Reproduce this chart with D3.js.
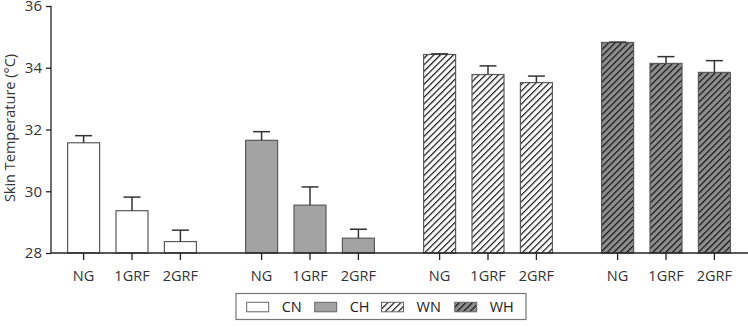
<!DOCTYPE html>
<html><head><meta charset="utf-8">
<script src="https://cdn.jsdelivr.net/npm/d3@7"></script>
<style>body{margin:0;background:#fff}svg{display:block;font-family:"Open Sans",sans-serif}</style>
</head><body><svg id="c" width="748" height="327"></svg>
<script>
const groups = ["CN","CH","WN","WH"];
const categories = ["NG","1GRF","2GRF"];
const means = {
  CN:[31.57,29.37,28.37],
  CH:[31.65,29.55,28.48],
  WN:[34.43,33.78,33.52],
  WH:[34.82,34.14,33.85]
};
const errors = {
  CN:[0.23,0.44,0.37],
  CH:[0.28,0.59,0.29],
  WN:[0.02,0.28,0.21],
  WH:[0.01,0.22,0.38]
};
const yTicks = [28,30,32,34,36];

const svg = d3.select("#c");
const defs = svg.append("defs");
function hatch(id, bg){
  const p = defs.append("pattern").attr("id",id).attr("patternUnits","userSpaceOnUse")
    .attr("width",4.6).attr("height",4.6).attr("patternTransform","rotate(45)");
  p.append("rect").attr("width",4.6).attr("height",4.6).attr("fill",bg);
  p.append("line").attr("x1",0).attr("y1",0).attr("x2",0).attr("y2",4.6).attr("stroke","#111").attr("stroke-width",2.4);
}
hatch("hWN","#ffffff");
hatch("hWH","#8e8e8e");
const fills = {CN:"#ffffff", CH:"#a3a3a3", WN:"url(#hWN)", WH:"url(#hWH)"};

const y = d3.scaleLinear().domain([28,36]).range([253,6]);
const xg = d3.scalePoint().domain(groups).range([132,666]);
const xc = d3.scalePoint().domain(categories).range([-48.4,48.4]);
const barW = 32;

// bars
groups.forEach(g=>{
  const gg = svg.append("g");
  categories.forEach((c,i)=>{
    const cx = xg(g)+xc(c);
    const v = means[g][i], e = errors[g][i];
    gg.append("rect").attr("x",cx-barW/2).attr("y",y(v)).attr("width",barW).attr("height",y(28)-y(v))
      .attr("fill",fills[g]).attr("stroke","#5a5a5a").attr("stroke-width",1.2);
    gg.append("line").attr("x1",cx).attr("x2",cx).attr("y1",y(v)).attr("y2",y(v+e)).attr("stroke","#333").attr("stroke-width",1.5);
    gg.append("line").attr("x1",cx-8.5).attr("x2",cx+8.5).attr("y1",y(v+e)).attr("y2",y(v+e)).attr("stroke","#333").attr("stroke-width",1.5);
  });
});

// y axis
const ya = svg.append("g").attr("transform","translate(51,0)")
  .call(d3.axisLeft(y).tickValues(yTicks).tickSize(5).tickPadding(4));
ya.select(".domain").attr("stroke","#222").attr("stroke-width",1.3).attr("d","M0,6V253");
ya.selectAll(".tick line").attr("stroke","#222").attr("stroke-width",1.3);
ya.selectAll("text").attr("font-size",15).attr("fill","#333").attr("font-family","Open Sans, sans-serif");

// x axis
svg.append("line").attr("x1",51).attr("x2",748).attr("y1",253).attr("y2",253).attr("stroke","#222").attr("stroke-width",1.3);
groups.forEach(g=>{
  categories.forEach(c=>{
    const cx = xg(g)+xc(c);
    svg.append("line").attr("x1",cx).attr("x2",cx).attr("y1",253).attr("y2",260).attr("stroke","#222").attr("stroke-width",1.3);
    svg.append("text").attr("x",cx).attr("y",281).attr("text-anchor","middle").attr("font-size",14.5).attr("fill","#333").text(c);
  });
});

// y label
svg.append("text").attr("transform","translate(14.5,128) rotate(-90)").attr("text-anchor","middle")
  .attr("font-size",14.5).attr("fill","#333").text("Skin Temperature (°C)");

// legend
const lg = svg.append("g");
lg.append("rect").attr("x",236).attr("y",293.5).attr("width",290).attr("height",26).attr("fill","#fff").attr("stroke","#777").attr("stroke-width",1.2);
const lx = [246.7,314.7,381.5,454.7];
groups.forEach((g,i)=>{
  lg.append("rect").attr("x",lx[i]).attr("y",302.3).attr("width",22).attr("height",9.5).attr("fill",fills[g]).attr("stroke","#666").attr("stroke-width",1);
  lg.append("text").attr("x",lx[i]+35).attr("y",312).attr("font-size",14.5).attr("fill","#222").text(g);
});
</script></body></html>
